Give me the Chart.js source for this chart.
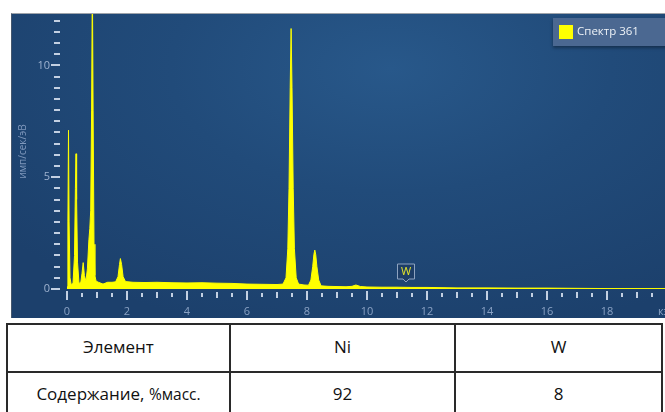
<!DOCTYPE html>
<html>
<head>
<meta charset="utf-8">
<script src="https://cdn.jsdelivr.net/npm/chart.js@4.4.1/dist/chart.umd.min.js"></script>
<style>
  html, body { margin: 0; padding: 0; background: #fff; width: 665px; height: 412px; overflow: hidden; position: relative; }
  .panel {
    position: absolute; left: 11px; top: 13px; width: 654px; height: 305px;
    box-sizing: border-box; overflow: hidden;
    border-top: 1px solid #9ea3aa; border-left: 1px solid #45576e;
    background: radial-gradient(ellipse 75% 90% at 58% 18%, #28588a 0%, #214b7a 45%, #1c406c 100%);
  }
  .chart-box { position: absolute; left: 0; top: 0; width: 700px; height: 304px; }
  .legend {
    position: absolute; left: 553px; top: 18px; width: 130px; height: 28px;
    background: #4b6891; box-shadow: 0 2px 3px rgba(0,0,0,0.35);
    font-family: "Open Sans", sans-serif; font-size: 11.5px; color: #eef2f7;
  }
  .legend .swatch { position: absolute; left: 6px; top: 7px; width: 14px; height: 14px; }
  .legend .name { position: absolute; left: 24px; top: 5px; white-space: nowrap; }
  table.composition {
    position: absolute; left: 6px; top: 323px; width: 657px; border-collapse: collapse; table-layout: fixed;
    font-family: "Open Sans", sans-serif; font-size: 17px; color: #111;
  }
  table.composition td { border: 2px solid #2a2a2a; text-align: center; padding: 0; }
  table.composition tr.head td { height: 43px; padding-bottom: 3px; }
  table.composition tr.vals td { height: 40px; padding-bottom: 4px; }
  table.composition .unit { font-size: 15.5px; }
</style>
</head>
<body>
<div class="panel">
  <div class="chart-box"><canvas id="spectrum"></canvas></div>
</div>
<div class="legend" id="legend"></div>
<table class="composition" id="composition">
  <colgroup><col style="width:223px"><col style="width:225px"><col></colgroup>
</table>

<script>
// спектр: энергия (кэВ) и интенсивность (имп/сек/эВ)
const energyKeV = [
  0.00, 0.03, 0.05, 0.07, 0.10, 0.14, 0.20, 0.25, 0.28, 0.30,
  0.32, 0.35, 0.40, 0.46, 0.50, 0.54, 0.58, 0.63, 0.68, 0.73,
  0.76, 0.79, 0.82, 0.845, 0.87, 0.90, 0.93, 0.97, 1.05, 1.20,
  1.35, 1.50, 1.62, 1.70, 1.75, 1.78, 1.82, 1.87, 1.95, 2.20,
  2.60, 3.00, 3.50, 4.00, 4.50, 5.00, 5.50, 6.00, 6.50, 7.00,
  7.20, 7.30, 7.36, 7.40, 7.44, 7.47, 7.50, 7.54, 7.58, 7.64,
  7.72, 7.90, 8.05, 8.13, 8.19, 8.23, 8.26, 8.29, 8.33, 8.39,
  8.47, 8.70, 9.00, 9.30, 9.50, 9.63, 9.78, 10.0, 10.5, 11.0,
  11.5, 12.0, 13.0, 14.0, 15.0, 16.0, 17.0, 18.0, 19.0, 20.0
];
const countsPerSec = [
  0.10, 3.00, 7.10, 3.00, 0.50, 0.20, 0.25, 1.50, 4.50, 6.05,
  4.00, 1.20, 0.25, 0.30, 0.70, 1.18, 0.60, 0.35, 0.90, 2.20,
  2.70, 3.50, 8.00, 14.0, 8.00, 2.00, 0.60, 0.35, 0.30, 0.22,
  0.30, 0.30, 0.32, 0.55, 1.10, 1.36, 1.10, 0.55, 0.33, 0.30,
  0.29, 0.30, 0.28, 0.27, 0.28, 0.26, 0.25, 0.22, 0.21, 0.20,
  0.22, 0.50, 1.80, 4.50, 9.00, 11.65, 9.00, 4.50, 1.80, 0.50,
  0.22, 0.18, 0.17, 0.40, 1.00, 1.55, 1.74, 1.55, 1.00, 0.40,
  0.14, 0.12, 0.11, 0.10, 0.12, 0.18, 0.11, 0.09, 0.08, 0.08,
  0.07, 0.07, 0.05, 0.05, 0.04, 0.04, 0.03, 0.02, 0.02, 0.02
];
const spectrumName = "Спектр 361";
const spectrumColor = "#ffff00";

// оси
const xTickValues = [0, 2, 4, 6, 8, 10, 12, 14, 16, 18, 20];
const xTickLabels = ["0", "2", "4", "6", "8", "10", "12", "14", "16", "18", "кэВ"];
const yTickValues = [0, 5, 10];
const yTickLabels = ["0", "5", "10"];
const yAxisTitle = "имп/сек/эВ";

// метки линий
const markerLabels = ["W"];
const markerEnergy = [11.3];

// таблица состава
const elementNames = ["Ni", "W"];
const massPercent = [92, 8];

const tickColor = "#c3d0e2";

// деления осей (мелкие и крупные)
const axisTicks = {
  id: "axisTicks",
  afterDraw(chart) {
    const { ctx, chartArea, scales } = chart;
    ctx.save();
    ctx.fillStyle = tickColor;
    for (let i = 0; i <= 24; i++) {
      const y = Math.round(scales.y.getPixelForValue(i * 0.5));
      const major = i % 10 === 0;
      const x0 = chartArea.left - (major ? 16 : 13);
      ctx.fillRect(x0, y - 1, chartArea.left - 7 - x0, 2);
    }
    for (let i = 0; i <= 39; i++) {
      const x = Math.round(scales.x.getPixelForValue(i * 0.5));
      const b = chartArea.bottom;
      if (i % 4 === 0) {
        ctx.fillRect(x - 1, b + 2, 2, 9);
      } else if (i % 2 === 0) {
        ctx.fillRect(x - 1, b + 3, 2, 6);
      } else {
        ctx.fillRect(x - 1, b + 4, 2, 4);
      }
    }
    ctx.restore();
  }
};

// рамки с названием элемента над линией
const peakMarkers = {
  id: "peakMarkers",
  afterDraw(chart) {
    const { ctx, scales } = chart;
    ctx.save();
    markerLabels.forEach((label, i) => {
      const x = Math.round(scales.x.getPixelForValue(markerEnergy[i]));
      const yb = scales.y.getPixelForValue(0) - 10;
      ctx.beginPath();
      ctx.moveTo(x - 8.5, yb - 15);
      ctx.lineTo(x + 8.5, yb - 15);
      ctx.lineTo(x + 8.5, yb);
      ctx.lineTo(x + 3, yb);
      ctx.lineTo(x, yb + 3);
      ctx.lineTo(x - 3, yb);
      ctx.lineTo(x - 8.5, yb);
      ctx.closePath();
      ctx.fillStyle = "rgba(28,58,98,0.7)";
      ctx.fill();
      ctx.strokeStyle = "#8ea3c0";
      ctx.lineWidth = 1;
      ctx.stroke();
      ctx.fillStyle = "#e6e62a";
      ctx.font = "11px 'Open Sans', sans-serif";
      ctx.textAlign = "center";
      ctx.textBaseline = "middle";
      ctx.fillText(label, x, yb - 7);
    });
    ctx.restore();
  }
};

const points = energyKeV.map((e, i) => ({ x: e, y: countsPerSec[i] }));

const myChart = new Chart(document.getElementById("spectrum"), {
  type: "line",
  data: {
    datasets: [{
      label: spectrumName,
      data: points,
      borderColor: spectrumColor,
      backgroundColor: spectrumColor,
      borderWidth: 1,
      pointRadius: 0,
      tension: 0,
      fill: "origin"
    }]
  },
  options: {
    responsive: true,
    maintainAspectRatio: false,
    animation: false,
    layout: { padding: { left: 0, top: 0, right: 45, bottom: 0 } },
    plugins: { legend: { display: false }, tooltip: { enabled: false } },
    scales: {
      x: {
        type: "linear", min: 0, max: 20,
        grid: { display: false }, border: { display: false },
        afterBuildTicks: s => { s.ticks = xTickValues.map(v => ({ value: v })); },
        afterFit: s => { s.height = 29; s.paddingLeft = 0; s.paddingRight = 0; },
        ticks: {
          color: "#8aa2c4", padding: 8, maxRotation: 0, autoSkip: false,
          font: { family: "'Open Sans', sans-serif", size: 11 },
          callback: v => xTickLabels[xTickValues.indexOf(v)]
        }
      },
      y: {
        min: 0, max: 12.3,
        grid: { display: false }, border: { display: false },
        afterBuildTicks: s => { s.ticks = yTickValues.map(v => ({ value: v })); },
        afterFit: s => { s.width = 55; s.paddingTop = 0; s.paddingBottom = 0; },
        ticks: {
          color: "#9fb3d0", padding: 9,
          font: { family: "'Open Sans', sans-serif", size: 11 },
          callback: v => yTickLabels[yTickValues.indexOf(v)]
        },
        title: {
          display: true, text: yAxisTitle, color: "#7f98bc",
          font: { family: "'Open Sans', sans-serif", size: 10 },
          padding: { top: 5, bottom: 0 }
        }
      }
    }
  },
  plugins: [axisTicks, peakMarkers]
});

// легенда
function buildLegend() {
  const legend = document.getElementById("legend");
  myChart.data.datasets.forEach(ds => {
    const swatch = document.createElement("div");
    swatch.classList.add("swatch");
    swatch.style.background = ds.backgroundColor;
    const name = document.createElement("div");
    name.classList.add("name");
    name.textContent = ds.label;
    legend.append(swatch, name);
  });
}

// таблица
function buildTable() {
  const table = document.getElementById("composition");
  const head = document.createElement("tr");
  head.classList.add("head");
  const vals = document.createElement("tr");
  vals.classList.add("vals");

  const h0 = document.createElement("td");
  h0.textContent = "Элемент";
  head.appendChild(h0);

  const v0 = document.createElement("td");
  v0.innerHTML = 'Содержание, <span class="unit">%масс.</span>';
  vals.appendChild(v0);

  elementNames.forEach((el, i) => {
    const h = document.createElement("td");
    h.textContent = el;
    head.appendChild(h);
    const v = document.createElement("td");
    v.textContent = massPercent[i];
    vals.appendChild(v);
  });
  table.append(head, vals);
}

buildLegend();
buildTable();
</script>
</body>
</html>
